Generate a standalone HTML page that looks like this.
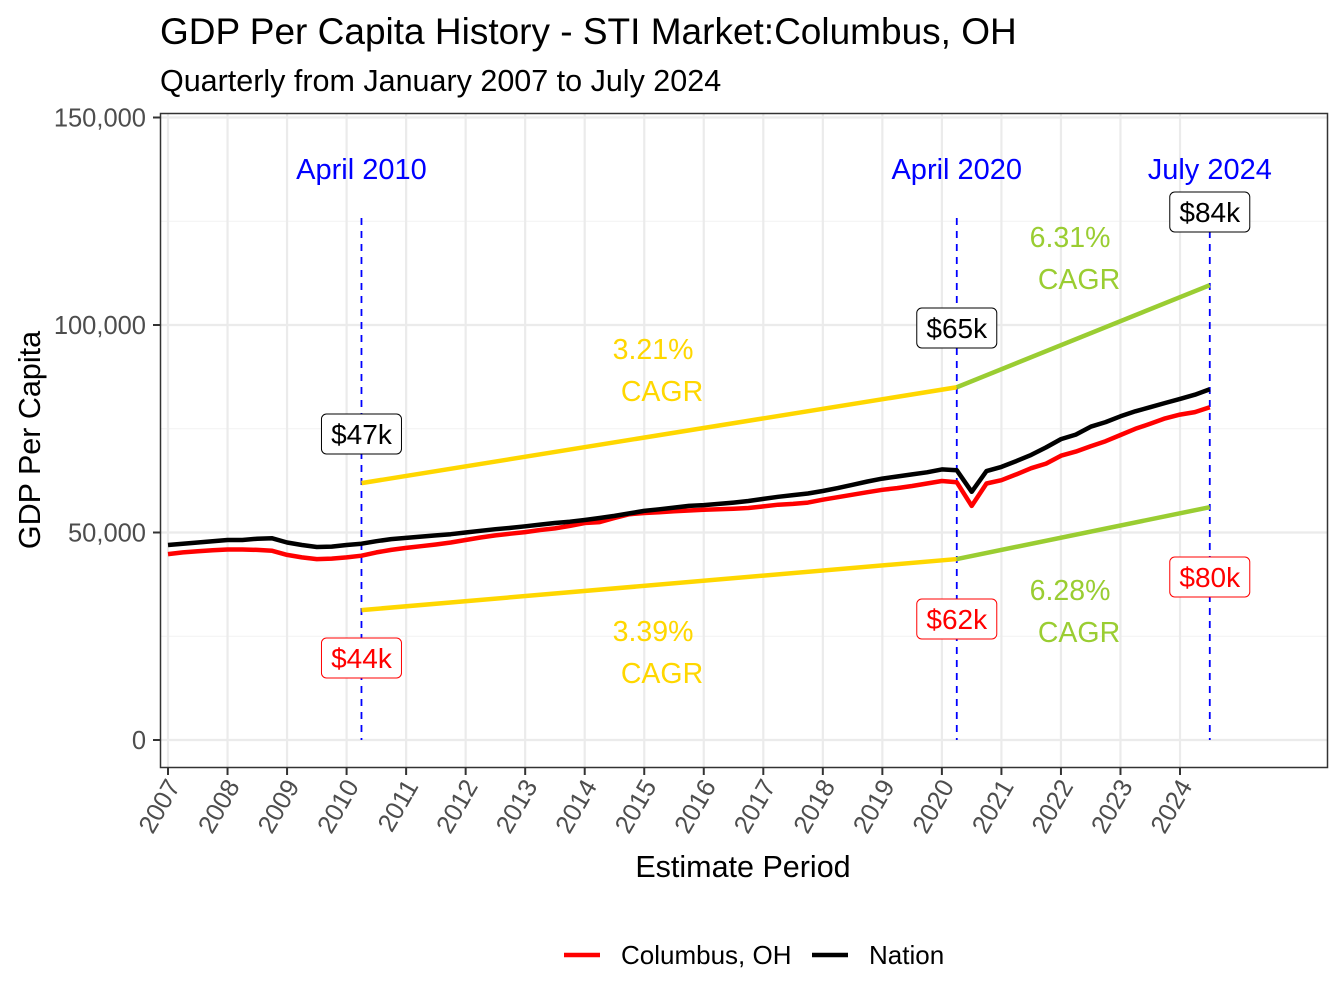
<!DOCTYPE html>
<html><head><meta charset="utf-8">
<style>
html,body{margin:0;padding:0;background:#fff;}
svg{display:block;font-family:"Liberation Sans",Arial,sans-serif;}
</style></head>
<body>
<svg id="chart" width="1344" height="1008" viewBox="0 0 1344 1008">
<text x="160" y="44" font-size="37" fill="#000">GDP Per Capita History - STI Market:Columbus, OH</text>
<text x="160" y="91" font-size="30.5" fill="#000">Quarterly from January 2007 to July 2024</text>
<g id="grid"></g>
<g id="marks"></g>
<rect x="160.5" y="113.5" width="1167" height="654" fill="none" stroke="#333" stroke-width="1.5"/>
<g id="axes"></g>
<text x="743" y="877" font-size="30.5" text-anchor="middle" fill="#000">Estimate Period</text>
<text transform="translate(40,440) rotate(-90)" font-size="30.5" text-anchor="middle" fill="#000">GDP Per Capita</text>
<g>
<line x1="564" y1="955" x2="600" y2="955" stroke="#ff0000" stroke-width="4.5"/>
<text x="621" y="964" font-size="26">Columbus, OH</text>
<line x1="812" y1="955" x2="848" y2="955" stroke="#000" stroke-width="4.5"/>
<text x="869" y="964" font-size="26">Nation</text>
</g>
</svg>
<script>
const years = [2007,2008,2009,2010,2011,2012,2013,2014,2015,2016,2017,2018,2019,2020,2021,2022,2023,2024];
const yTicks = [0,50000,100000,150000];
const yTickLabels = ["0","50,000","100,000","150,000"];
const nation = [47.0,47.3,47.6,47.9, 48.2,48.2,48.5,48.6, 47.6,47.0,46.5,46.6, 47.0,47.3,47.9,48.4,
 48.7,49.0,49.3,49.6, 50.0,50.4,50.8,51.1, 51.5,51.9,52.3,52.6, 53.0,53.5,54.0,54.6,
 55.2,55.6,56.0,56.4, 56.6,56.9,57.2,57.6, 58.1,58.6,59.0,59.4, 60.0,60.7,61.5,62.3,
 63.0,63.5,64.0,64.5, 65.2,65.0,59.8,64.8, 65.8,67.2,68.7,70.5, 72.5,73.6,75.5,76.6,
 78.0,79.2,80.2,81.2, 82.2,83.2,84.5];
const columbus = [44.8,45.2,45.5,45.7, 45.9,45.9,45.8,45.6, 44.6,44.0,43.6,43.7, 44.0,44.4,45.2,45.8,
 46.3,46.7,47.1,47.6, 48.2,48.8,49.3,49.7, 50.1,50.6,51.0,51.6, 52.3,52.5,53.5,54.4,
 54.7,54.9,55.1,55.3, 55.5,55.6,55.7,55.9, 56.3,56.7,56.9,57.2, 57.9,58.5,59.1,59.7,
 60.3,60.7,61.2,61.8, 62.4,62.1,56.4,61.8, 62.6,64.0,65.5,66.6, 68.5,69.5,70.8,72.0,
 73.5,75.0,76.2,77.5, 78.4,79.0,80.2];
const markerDates = [2010.25,2020.25,2024.5];
const markerNames = ["April 2010","April 2020","July 2024"];
const nationLabels = ["$47k","$65k","$84k"];
const columbusLabels = ["$44k","$62k","$80k"];
const upperTrend = [61.9,85.0,109.6];
const lowerTrend = [31.3,43.6,56.1];
const cagrUpper = ["3.21%","6.31%"];
const cagrLower = ["3.39%","6.28%"];

const NS="http://www.w3.org/2000/svg";
const xS = t => 168 + (t-2007)*59.53;
const yS = v => 740 - v*0.00415;
function mk(tag, attrs, parent, txt){const e=document.createElementNS(NS,tag);for(const k in attrs)e.setAttribute(k,attrs[k]);if(txt!==undefined)e.textContent=txt;parent.appendChild(e);return e;}
const grid=document.getElementById('grid'), marks=document.getElementById('marks'), axes=document.getElementById('axes');

[25000,75000,125000].forEach(v=>{const l=mk('line',{x1:161,x2:1327,y1:yS(v),y2:yS(v),stroke:'#f2f2f2','stroke-width':1},grid);

});
yTicks.forEach((v,i)=>{const l=mk('line',{x1:161,x2:1327,y1:yS(v),y2:yS(v),stroke:'#ebebeb','stroke-width':2.2},grid);


const tk=mk('line',{x1:153,x2:160,y1:yS(v),y2:yS(v),stroke:'#333','stroke-width':2},axes);


const t=mk('text',{x:146,y:yS(v)+9,'font-size':25.5,'text-anchor':'end',fill:'#4d4d4d'},axes,yTickLabels[i]);

});
years.forEach(yr=>{const x=xS(yr);const l=mk('line',{x1:x,x2:x,y1:114,y2:767,stroke:'#ebebeb','stroke-width':2.2},grid);


const tk=mk('line',{x1:x,x2:x,y1:768,y2:775,stroke:'#333','stroke-width':2},axes);


const t=mk('text',{transform:`translate(${x+13},${786}) rotate(-60)`,'font-size':25.5,'text-anchor':'end',fill:'#4d4d4d'},axes,String(yr));

});

markerDates.forEach((d,i)=>{const x=xS(d);
const l=mk('line',{x1:x,x2:x,y1:218,y2:740,stroke:'#0000ff','stroke-width':1.8,'stroke-dasharray':'7,6'},marks);


const t=mk('text',{x:x,y:179,'font-size':29,'text-anchor':'middle',fill:'#0000ff'},marks,markerNames[i]);

});

function seg(arr,i,color,name){const p=mk('line',{x1:xS(markerDates[i]),y1:yS(arr[i]*1000),x2:xS(markerDates[i+1]),y2:yS(arr[i+1]*1000),stroke:color,'stroke-width':4.5},marks);

}
seg(upperTrend,0,'#ffd700','upper-trend-2010-2020');
seg(upperTrend,1,'#9acd32','upper-trend-2020-2024');
seg(lowerTrend,0,'#ffd700','lower-trend-2010-2020');
seg(lowerTrend,1,'#9acd32','lower-trend-2020-2024');

function series(arr,color,name){const pts=arr.map((v,i)=>`${xS(2007+i*0.25).toFixed(1)},${yS(v*1000).toFixed(1)}`).join(' ');
const p=mk('polyline',{points:pts,fill:'none',stroke:color,'stroke-width':4.5,'stroke-linejoin':'round'},marks);

}
series(columbus,'#ff0000','columbus-line');
series(nation,'#000000','nation-line');

function box(x,y,txt,color,name){const g=mk('g',{},marks);


mk('rect',{x:x-40,y:y-20,width:80,height:40,rx:5,fill:'#fff',stroke:color,'stroke-width':1},g);
mk('text',{x:x,y:y+10,'font-size':28,'text-anchor':'middle',fill:color},g,txt);}
const nY=[434,328,212], cY=[658,619,577];
markerDates.forEach((d,i)=>{box(xS(d),nY[i],nationLabels[i],'#000','nation-value-label');box(xS(d),cY[i],columbusLabels[i],'#ff0000','columbus-value-label');});

function cagr(x,y,pct,color,name){const t=mk('text',{x:x,y:y,'font-size':28.5,'text-anchor':'middle',fill:color},marks,pct);


const t2=mk('text',{x:x+9,y:y+42,'font-size':28.5,'text-anchor':'middle',fill:color},marks,'CAGR');

}
cagr(653,359,cagrUpper[0],'#ffd700','cagr-upper-2010');
cagr(1070,247,cagrUpper[1],'#9acd32','cagr-upper-2020');
cagr(653,641,cagrLower[0],'#ffd700','cagr-lower-2010');
cagr(1070,600,cagrLower[1],'#9acd32','cagr-lower-2020');
</script>
</body></html>
